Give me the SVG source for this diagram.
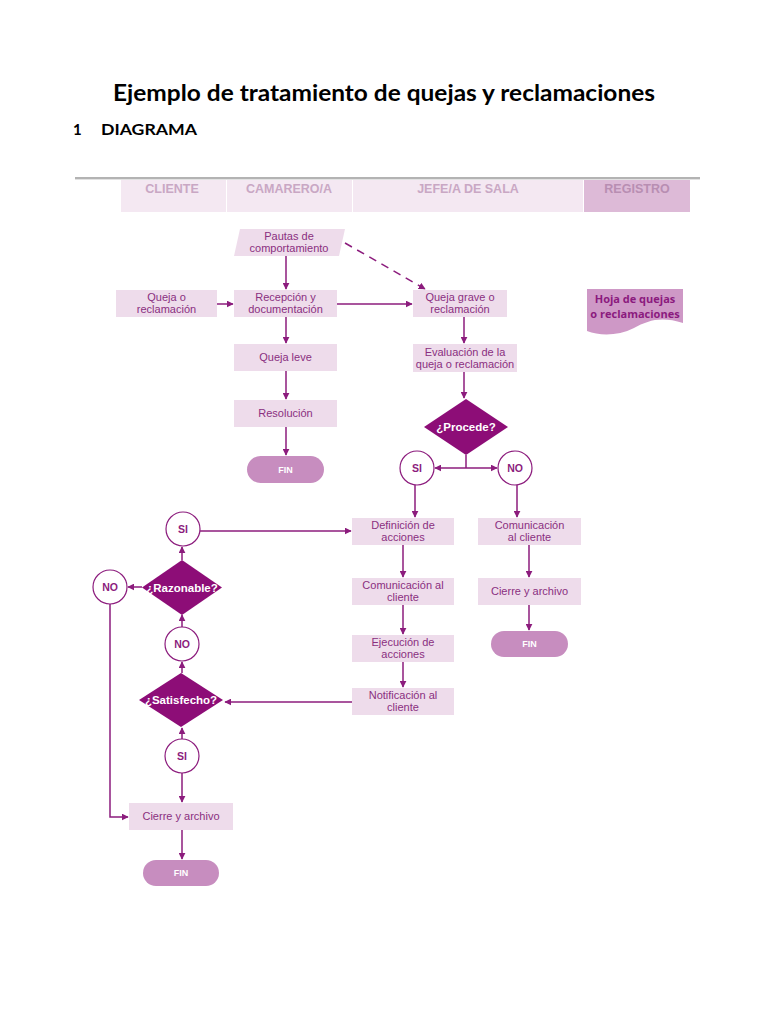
<svg xmlns="http://www.w3.org/2000/svg" width="768" height="1024" viewBox="0 0 768 1024">
<defs>
<marker id="ah" viewBox="0 0 10 10" refX="9" refY="5" markerWidth="7" markerHeight="7" markerUnits="userSpaceOnUse" orient="auto">
<path d="M0,0 L10,5 L0,10 Z" fill="#8C1C7D"/>
</marker>
<style>
.title{font-family:Lato,"Open Sans","Liberation Sans",sans-serif;font-weight:bold;fill:#000}
.hd{font-family:"Liberation Sans",Arial,sans-serif;font-weight:bold;font-size:12.5px;fill:#C9A7C4;text-anchor:middle}
.hcell{fill:#F4E8F2}
.box{fill:#EEDCEB}
.bt{font-family:"Liberation Sans",Arial,sans-serif;font-size:11px;fill:#8A2F80;text-anchor:middle}
.dia{fill:#8D0D77}
.dt{font-family:"Liberation Sans",Arial,sans-serif;font-weight:bold;font-size:11.5px;fill:#fff;text-anchor:middle}
.cir{fill:#fff;stroke:#8C1C7D;stroke-width:1.2}
.ct{font-family:"Liberation Sans",Arial,sans-serif;font-weight:bold;font-size:10.5px;fill:#8C1C7D;text-anchor:middle}
.pill{fill:#C78DBF}
.pt{font-family:"Liberation Sans",Arial,sans-serif;font-weight:bold;font-size:9px;fill:#fff;text-anchor:middle}
.cn{fill:none;stroke:#8C1C7D;stroke-width:1.5;marker-end:url(#ah)}
.dash{stroke-dasharray:8 6}
</style>
</defs>
<rect width="768" height="1024" fill="#fff"/>
<text class="title" x="384" y="101" font-size="22" text-anchor="middle" textLength="542" lengthAdjust="spacingAndGlyphs">Ejemplo de tratamiento de quejas y reclamaciones</text>
<text class="title" x="73" y="135" font-size="15">1</text>
<text class="title" x="101" y="135" font-size="15" textLength="96" lengthAdjust="spacingAndGlyphs">DIAGRAMA</text>

<g id="header">
<line x1="75" y1="178" x2="700" y2="178" stroke="#9A9A9A" stroke-width="1.6"/>
<line x1="75" y1="179.5" x2="700" y2="179.5" stroke="#E2E2E2" stroke-width="1"/>
<rect class="hcell" x="121" y="180" width="105" height="32"/>
<rect class="hcell" x="227" y="180" width="125" height="32"/>
<rect class="hcell" x="353" y="180" width="230" height="32"/>
<rect x="584" y="180" width="106" height="32" fill="#DDBAD7"/>
<text class="hd" x="172" y="193">CLIENTE</text>
<text class="hd" x="289" y="193">CAMARERO/A</text>
<text class="hd" x="468" y="193">JEFE/A DE SALA</text>
<text class="hd" x="637" y="193" style="fill:#B88EB2">REGISTRO</text>
</g>

<g id="connectors">
<path class="cn" d="M217,304 H233"/>
<path class="cn" d="M286,256 V289"/>
<path class="cn" d="M337,304 H412"/>
<path class="cn dash" d="M345,243 L425,289"/>
<path class="cn" d="M286,317 V343"/>
<path class="cn" d="M286,371 V399"/>
<path class="cn" d="M286,427 V455"/>
<path class="cn" d="M464,317 V343"/>
<path class="cn" d="M464,372 V398"/>
<path fill="none" stroke="#8C1C7D" stroke-width="1.5" d="M466,455 V468"/>
<path class="cn" d="M466,468 H435"/>
<path class="cn" d="M466,468 H497"/>
<path class="cn" d="M415,485 V517"/>
<path class="cn" d="M517,485 V517"/>
<path class="cn" d="M403,545 V577"/>
<path class="cn" d="M403,605 V634"/>
<path class="cn" d="M403,662 V687"/>
<path class="cn" d="M529,545 V577"/>
<path class="cn" d="M529,605 V630"/>
<path class="cn" d="M200,531 H351"/>
<path class="cn" d="M182,560 V547"/>
<path class="cn" d="M142,587 H128"/>
<path class="cn" d="M182,627 V615"/>
<path class="cn" d="M182,673 V662"/>
<path class="cn" d="M352,702 H225"/>
<path class="cn" d="M182,739 V728"/>
<path class="cn" d="M182,773 V802"/>
<path class="cn" d="M110,604 V817 H128"/>
<path class="cn" d="M182,830 V859"/>
</g>

<g id="pautas">
<path class="box" d="M240,229 H345 L339,256 H234 Z"/>
<text class="bt" x="289" y="240">Pautas de</text>
<text class="bt" x="289" y="252">comportamiento</text>
</g>
<g id="queja">
<rect class="box" x="116" y="290" width="101" height="27"/>
<text class="bt" x="166.5" y="301">Queja o</text>
<text class="bt" x="166.5" y="313">reclamación</text>
</g>
<g id="recepcion">
<rect class="box" x="234" y="290" width="103" height="27"/>
<text class="bt" x="285.5" y="301">Recepción y</text>
<text class="bt" x="285.5" y="313">documentación</text>
</g>
<g id="leve">
<rect class="box" x="234" y="344" width="103" height="27"/>
<text class="bt" x="285.5" y="361">Queja leve</text>
</g>
<g id="resolucion">
<rect class="box" x="234" y="400" width="103" height="27"/>
<text class="bt" x="285.5" y="417">Resolución</text>
</g>
<g id="fin1">
<rect class="pill" x="247" y="456" width="77" height="27" rx="13.5"/>
<text class="pt" x="285.5" y="473">FIN</text>
</g>
<g id="grave">
<rect class="box" x="413" y="290" width="94" height="27"/>
<text class="bt" x="460" y="301">Queja grave o</text>
<text class="bt" x="460" y="313">reclamación</text>
</g>
<g id="evaluacion">
<rect class="box" x="413" y="344" width="104" height="28"/>
<text class="bt" x="465" y="356">Evaluación de la</text>
<text class="bt" x="465" y="368">queja o reclamación</text>
</g>
<g id="procede">
<path class="dia" d="M466,399 L508,427 L466,455 L424,427 Z"/>
<text class="dt" x="466" y="431">¿Procede?</text>
</g>
<g id="si1">
<circle class="cir" cx="417" cy="468" r="17"/>
<text class="ct" x="417" y="472">SI</text>
</g>
<g id="no1">
<circle class="cir" cx="515" cy="468" r="17"/>
<text class="ct" x="515" y="472">NO</text>
</g>
<g id="definicion">
<rect class="box" x="352" y="518" width="102" height="27"/>
<text class="bt" x="403" y="529">Definición de</text>
<text class="bt" x="403" y="541">acciones</text>
</g>
<g id="comunicacion1">
<rect class="box" x="352" y="578" width="102" height="27"/>
<text class="bt" x="403" y="589">Comunicación al</text>
<text class="bt" x="403" y="601">cliente</text>
</g>
<g id="ejecucion">
<rect class="box" x="352" y="635" width="102" height="27"/>
<text class="bt" x="403" y="646">Ejecución de</text>
<text class="bt" x="403" y="658">acciones</text>
</g>
<g id="notificacion">
<rect class="box" x="352" y="688" width="102" height="27"/>
<text class="bt" x="403" y="699">Notificación al</text>
<text class="bt" x="403" y="711">cliente</text>
</g>
<g id="comunicacion2">
<rect class="box" x="478" y="518" width="103" height="27"/>
<text class="bt" x="529.5" y="529">Comunicación</text>
<text class="bt" x="529.5" y="541">al cliente</text>
</g>
<g id="cierre2">
<rect class="box" x="478" y="578" width="103" height="27"/>
<text class="bt" x="529.5" y="595">Cierre y archivo</text>
</g>
<g id="fin2">
<rect class="pill" x="491" y="631" width="77" height="26" rx="13"/>
<text class="pt" x="529.5" y="647">FIN</text>
</g>
<g id="si2">
<circle class="cir" cx="183" cy="529" r="17"/>
<text class="ct" x="183" y="533">SI</text>
</g>
<g id="razonable">
<path class="dia" d="M182,560 L222,587.5 L182,615 L142,587.5 Z"/>
<text class="dt" x="182" y="591.5">¿Razonable?</text>
</g>
<g id="no2">
<circle class="cir" cx="110" cy="587" r="17"/>
<text class="ct" x="110" y="591">NO</text>
</g>
<g id="no3">
<circle class="cir" cx="182" cy="644" r="17"/>
<text class="ct" x="182" y="648">NO</text>
</g>
<g id="satisfecho">
<path class="dia" d="M181,673 L223,700 L181,727 L139,700 Z"/>
<text class="dt" x="181" y="704">¿Satisfecho?</text>
</g>
<g id="si3">
<circle class="cir" cx="182" cy="756" r="17"/>
<text class="ct" x="182" y="760">SI</text>
</g>
<g id="cierre1">
<rect class="box" x="129" y="803" width="104" height="27"/>
<text class="bt" x="181" y="820">Cierre y archivo</text>
</g>
<g id="fin3">
<rect class="pill" x="143" y="860" width="76" height="26" rx="13"/>
<text class="pt" x="181" y="876">FIN</text>
</g>
<g id="hoja">
<path d="M587,289 H683 V323 C662,316 648,320 634,328 C618,336 600,336 587,331 Z" fill="#CE98C6"/>
<text x="635" y="303" font-family="'Open Sans','Liberation Sans',sans-serif" font-weight="bold" font-size="11" fill="#8B1A7E" text-anchor="middle">Hoja de quejas</text>
<text x="635" y="318" font-family="'Open Sans','Liberation Sans',sans-serif" font-weight="bold" font-size="11" fill="#8B1A7E" text-anchor="middle">o reclamaciones</text>
</g>
</svg>
